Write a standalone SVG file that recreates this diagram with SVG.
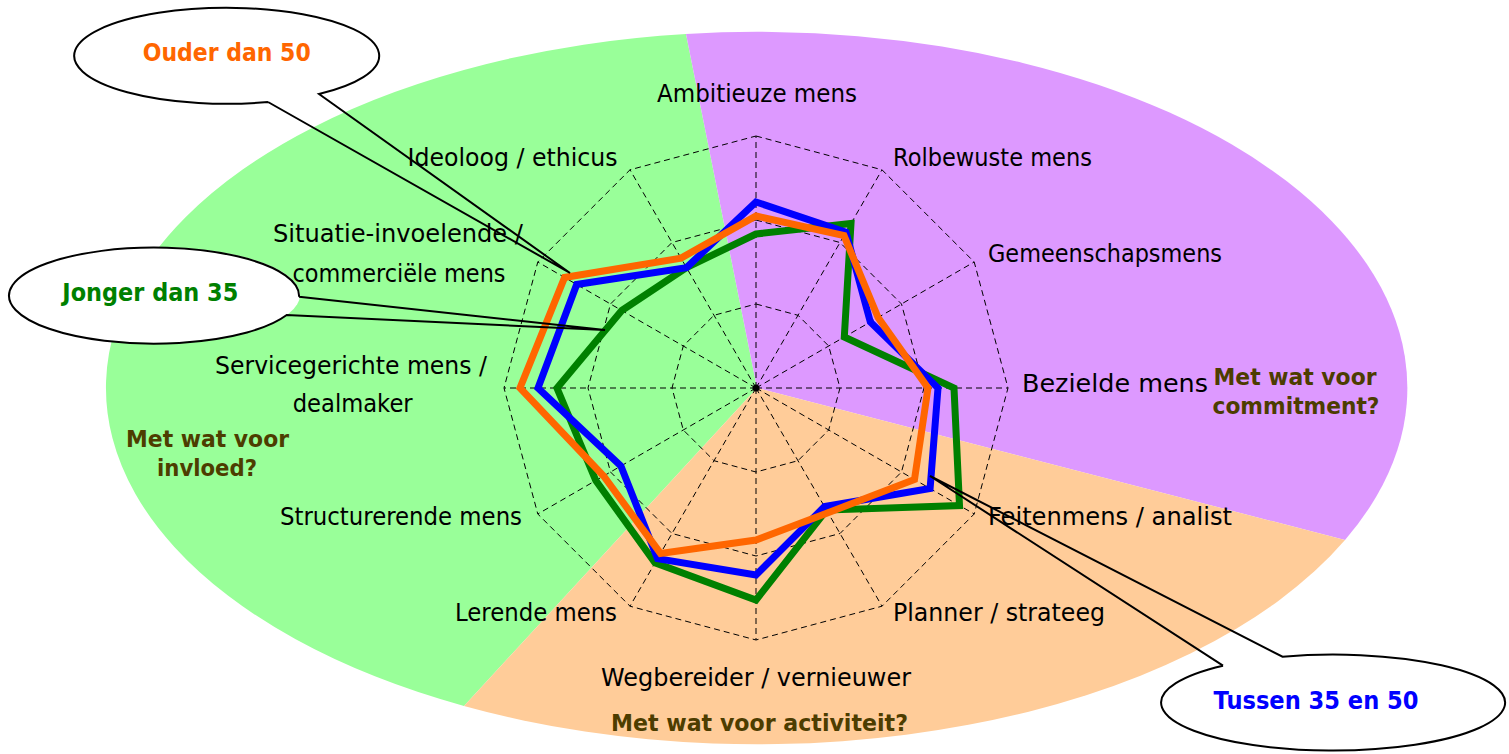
<svg xmlns="http://www.w3.org/2000/svg" width="1509" height="754" viewBox="0 0 1509 754">
  <style>
    .grid { fill: none; stroke: #000; stroke-width: 1; stroke-dasharray: 6 4; }
    .series { fill: none; stroke-width: 7; stroke-linejoin: miter; stroke-miterlimit: 10; }
    .axis-label { font-family: "DejaVu Sans", Verdana, sans-serif; font-size: 24px; fill: #000; }
    .question { font-family: "DejaVu Sans", Verdana, sans-serif; font-size: 23px; font-weight: bold; fill: #4D3D00; text-anchor: middle; }
    .bubble-fill { fill: #fff; stroke: none; }
    .bubble-line { fill: none; stroke: #000; stroke-width: 2; stroke-linejoin: miter; }
    .bubble-text { font-family: "DejaVu Sans", Verdana, sans-serif; font-size: 24px; font-weight: bold; text-anchor: middle; }
  </style>

  <rect width="1509" height="754" fill="#fff"/>

  <!-- three coloured sectors of the background ellipse -->
  <g id="sectors">
    <path id="sector-invloed" d="M757,388 L686,34 A650,356 0 0 0 464,706 Z" fill="#99FF99"/>
    <path id="sector-commitment" d="M757,388 L1345,540 A650,356 0 0 0 686,34 Z" fill="#DD99FF"/>
    <path id="sector-activiteit" d="M757,388 L464,706 A650,356 0 0 0 1345,540 Z" fill="#FFCC99"/>
  </g>

  <!-- radar grid: three dodecagon rings and twelve spokes -->
  <g id="grid" class="grid">
    <polygon points="756,136 882,169.8 974.2,262 1008,388 974.2,514 882,606.2 756,640 630,606.2 537.8,514 504,388 537.8,262 630,169.8"/>
    <polygon points="756,220 840,242.5 901.5,304 924,388 901.5,472 840,533.5 756,556 672,533.5 610.5,472 588,388 610.5,304 672,242.5"/>
    <polygon points="756,304 798,315.3 828.7,346 840,388 828.7,430 798,460.7 756,472 714,460.7 683.3,430 672,388 683.3,346 714,315.3"/>
    <path d="M756,388 L756,136 M756,388 L882,169.8 M756,388 L974.2,262 M756,388 L1008,388 M756,388 L974.2,514 M756,388 L882,606.2 M756,388 L756,640 M756,388 L630,606.2 M756,388 L537.8,514 M756,388 L504,388 M756,388 L537.8,262 M756,388 L630,169.8"/>
  </g>
  <circle cx="756" cy="388" r="3.5" fill="#000"/>

  <!-- data series -->
  <g id="series">
    <polygon id="series-jonger" class="series" stroke="#008000" points="756,234 851,223.5 844.3,337 954,388 959.5,505.5 826.5,510.1 756,600 655,562.9 595.8,480.5 557,388 621.8,310.5 686.5,267.6"/>
    <polygon id="series-tussen" class="series" stroke="#0000FF" points="756,202 846,232.1 870.3,322 938,388 930.1,488.5 824.5,506.6 756,575 657.5,558.6 620.9,466 538,388 576.7,284.5 686.5,267.6"/>
    <polygon id="series-ouder" class="series" stroke="#FF6600" points="756,216 844,235.6 878.1,317.5 928,388 914.5,479.5 828,512.7 756,540 660.5,553.4 603.6,476 520,388 564.6,277.5 681,258.1"/>
  </g>

  <!-- axis labels -->
  <g id="axis-labels" class="axis-label">
    <text x="757" y="101.5" text-anchor="middle" textLength="200" lengthAdjust="spacingAndGlyphs">Ambitieuze mens</text>
    <text x="893" y="166" textLength="199" lengthAdjust="spacingAndGlyphs">Rolbewuste mens</text>
    <text x="988" y="261.5" textLength="234" lengthAdjust="spacingAndGlyphs">Gemeenschapsmens</text>
    <text x="1022" y="392" textLength="186" lengthAdjust="spacingAndGlyphs">Bezielde mens</text>
    <text x="988" y="525" textLength="244" lengthAdjust="spacingAndGlyphs">Feitenmens / analist</text>
    <text x="893" y="620.5" textLength="212" lengthAdjust="spacingAndGlyphs">Planner / strateeg</text>
    <text x="756" y="686" text-anchor="middle" textLength="310" lengthAdjust="spacingAndGlyphs">Wegbereider / vernieuwer</text>
    <text x="617" y="620.5" text-anchor="end" textLength="162" lengthAdjust="spacingAndGlyphs">Lerende mens</text>
    <text x="522" y="525" text-anchor="end" textLength="242" lengthAdjust="spacingAndGlyphs">Structurerende mens</text>
    <text x="351" y="373.5" text-anchor="middle" textLength="272" lengthAdjust="spacingAndGlyphs">Servicegerichte mens /</text>
    <text x="352.7" y="411.7" text-anchor="middle" textLength="120" lengthAdjust="spacingAndGlyphs">dealmaker</text>
    <text x="398" y="241.5" text-anchor="middle" textLength="250" lengthAdjust="spacingAndGlyphs">Situatie-invoelende /</text>
    <text x="399" y="281.7" text-anchor="middle" textLength="213" lengthAdjust="spacingAndGlyphs">commerciële mens</text>
    <text x="617.5" y="165.5" text-anchor="end" textLength="210" lengthAdjust="spacingAndGlyphs">Ideoloog / ethicus</text>
  </g>

  <!-- sector questions -->
  <g id="questions" class="question">
    <text x="1295" y="385" textLength="163" lengthAdjust="spacingAndGlyphs">Met wat voor</text>
    <text x="1296" y="413.5" textLength="167" lengthAdjust="spacingAndGlyphs">commitment?</text>
    <text x="207.5" y="447" textLength="163" lengthAdjust="spacingAndGlyphs">Met wat voor</text>
    <text x="207" y="476" textLength="100" lengthAdjust="spacingAndGlyphs">invloed?</text>
    <text x="759.5" y="731" textLength="297" lengthAdjust="spacingAndGlyphs">Met wat voor activiteit?</text>
  </g>

  <!-- callouts naming the age groups -->
  <g id="callout-ouder">
    <ellipse class="bubble-fill" cx="226.5" cy="55" rx="152.5" ry="48"/>
    <path class="bubble-line" d="M268,102 L570,273 L319,94 A152.5,48 0 1 0 268,102"/>
    <text class="bubble-text" x="226.7" y="61" fill="#FF6600" textLength="168" lengthAdjust="spacingAndGlyphs">Ouder dan 50</text>
  </g>
  <g id="callout-jonger">
    <ellipse class="bubble-fill" cx="155" cy="295" rx="145" ry="48"/>
    <path class="bubble-line" d="M299,296.7 L605,330 L286.7,315 A145,48 0 1 1 299,296.7"/>
    <text class="bubble-text" x="150.3" y="301" fill="#008000" textLength="176" lengthAdjust="spacingAndGlyphs">Jonger dan 35</text>
  </g>
  <g id="callout-tussen">
    <ellipse class="bubble-fill" cx="1326" cy="703" rx="172" ry="48"/>
    <path class="bubble-line" d="M1223,665.7 L930,476 L1282.5,656.7 A172,48 0 1 1 1223,665.7"/>
    <text class="bubble-text" x="1316" y="708.5" fill="#0000FF" textLength="205" lengthAdjust="spacingAndGlyphs">Tussen 35 en 50</text>
  </g>
</svg>
